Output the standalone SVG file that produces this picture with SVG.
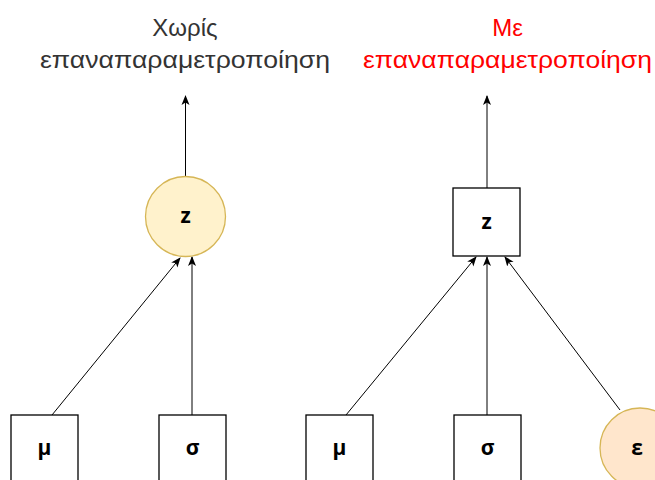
<svg xmlns="http://www.w3.org/2000/svg" width="655" height="480" viewBox="0 0 655 480">
<defs>
<marker id="ah" viewBox="0 0 10 10" refX="9" refY="5" markerWidth="10" markerHeight="10" markerUnits="userSpaceOnUse" orient="auto">
<path d="M0,1 L10,5 L0,9 L2.5,5 Z" fill="#000"/>
</marker>
<style>
.box{fill:#fff;stroke:#000;stroke-width:1.3}
.lbl{font-family:"Open Sans","Liberation Sans",sans-serif;font-weight:bold;font-size:21px;text-anchor:middle;fill:#000}
.ttl{font-family:"Liberation Sans",Arial,sans-serif;font-size:24px;text-anchor:middle}
.c{stroke:#000;stroke-width:1;fill:none;marker-end:url(#ah)}
</style>
</defs>
<rect width="655" height="480" fill="#fff"/>
<g id="title-left">
<text class="ttl" x="185" y="36" fill="#333">Χωρίς</text>
<text class="ttl" x="185" y="68" fill="#333" textLength="290" lengthAdjust="spacingAndGlyphs">επαναπαραμετροποίηση</text>
</g>
<g id="title-right">
<text class="ttl" x="507.5" y="36" fill="#ff0000">Με</text>
<text class="ttl" x="507.5" y="68" fill="#ff0000" textLength="289" lengthAdjust="spacingAndGlyphs">επαναπαραμετροποίηση</text>
</g>
<g id="connectors">
<line class="c" x1="185.5" y1="176" x2="185.5" y2="96"/>
<line class="c" x1="52" y1="415" x2="180" y2="258"/>
<line class="c" x1="192" y1="415" x2="192" y2="257"/>
<line class="c" x1="487" y1="188" x2="487" y2="96"/>
<line class="c" x1="346" y1="415" x2="476" y2="257"/>
<line class="c" x1="487" y1="415" x2="487" y2="257"/>
<line class="c" x1="620" y1="410" x2="505" y2="257"/>
</g>
<g id="z-left">
<circle cx="185.5" cy="216.5" r="40" fill="#fff2cc" stroke="#d6b656" stroke-width="1.3"/>
<text class="lbl" x="185.5" y="223">z</text>
</g>
<g id="z-right">
<rect class="box" x="453" y="188" width="67" height="68"/>
<text class="lbl" x="486.5" y="229">z</text>
</g>
<g id="mu-left">
<rect class="box" x="11" y="415" width="67" height="68"/>
<text class="lbl" x="44.5" y="455">μ</text>
</g>
<g id="sigma-left">
<rect class="box" x="159" y="415" width="67" height="68"/>
<text class="lbl" x="192.5" y="455">σ</text>
</g>
<g id="mu-right">
<rect class="box" x="306" y="415" width="67" height="68"/>
<text class="lbl" x="339.5" y="455">μ</text>
</g>
<g id="sigma-right">
<rect class="box" x="454" y="415" width="67" height="68"/>
<text class="lbl" x="487.5" y="455">σ</text>
</g>
<g id="epsilon">
<circle cx="640" cy="448" r="40" fill="#ffe6cc" stroke="#d6b656" stroke-width="1.3"/>
<text class="lbl" x="637" y="455">ε</text>
</g>
</svg>
